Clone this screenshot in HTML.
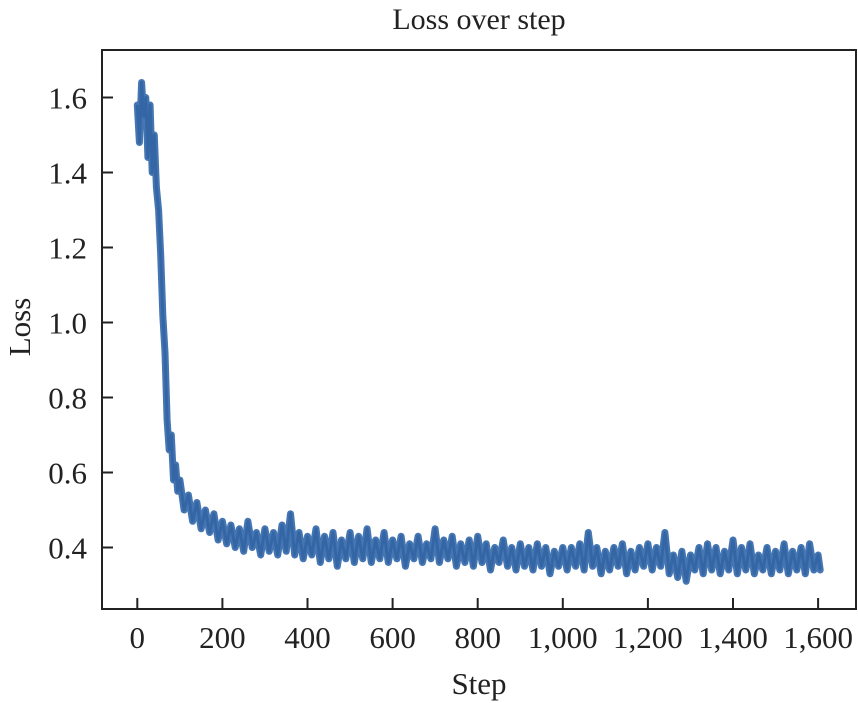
<!DOCTYPE html>
<html><head><meta charset="utf-8"><style>
html,body{margin:0;padding:0;background:#fff;}
svg{display:block;font-family:"Liberation Serif",serif;}
</style></head><body>
<svg id="chart" width="858" height="703">
<text x="479" y="29" font-size="30" text-anchor="middle" fill="#222">Loss over step</text>
<text x="479" y="694" font-size="31" text-anchor="middle" fill="#222">Step</text>
<text x="0" y="0" font-size="31" text-anchor="middle" fill="#222" transform="translate(30,327) rotate(-90)">Loss</text>
<g id="axes"></g>
<path id="band" fill="none" stroke="#3b6fae" stroke-width="7" stroke-linejoin="round" stroke-linecap="round" opacity="0.95"></path>
<path id="line" fill="none" stroke="#3466a6" stroke-width="3" stroke-linejoin="round"></path>
<rect x="102" y="50" width="754" height="559" fill="none" stroke="#222" stroke-width="2"></rect>
</svg>
<script>
const xTicks=[0,200,400,600,800,1000,1200,1400,1600];
const xTickLabels=["0","200","400","600","800","1,000","1,200","1,400","1,600"];
const yTicks=[0.4,0.6,0.8,1.0,1.2,1.4,1.6];
const yTickLabels=["0.4","0.6","0.8","1.0","1.2","1.4","1.6"];
const steps=[0,5,10,15,20,25,30,35,40,45,50,55,60,65,70,75,80,85,90,95,100,
110,120,130,140,150,160,170,180,190,200,210,220,230,240,250,260,270,280,290,300,
310,320,330,340,350,360,370,380,390,400,410,420,430,440,450,460,470,480,490,500,
510,520,530,540,550,560,570,580,590,600,610,620,630,640,650,660,670,680,690,700,
710,720,730,740,750,760,770,780,790,800,810,820,830,840,850,860,870,880,890,900,
910,920,930,940,950,960,970,980,990,1000,1010,1020,1030,1040,1050,1060,1070,1080,1090,1100,
1110,1120,1130,1140,1150,1160,1170,1180,1190,1200,1210,1220,1230,1240,1250,1260,1270,1280,1290,1300,
1310,1320,1330,1340,1350,1360,1370,1380,1390,1400,1410,1420,1430,1440,1450,1460,1470,1480,1490,1500,
1510,1520,1530,1540,1550,1560,1570,1580,1590,1600,1605];
const loss=[1.58,1.48,1.64,1.55,1.60,1.44,1.58,1.40,1.50,1.36,1.30,1.18,1.02,0.92,0.74,0.66,0.70,0.58,0.62,0.55,0.58,
0.50,0.54,0.47,0.52,0.45,0.50,0.44,0.49,0.42,0.47,0.41,0.46,0.40,0.45,0.39,0.47,0.40,0.44,0.38,0.45,
0.39,0.44,0.38,0.46,0.39,0.49,0.38,0.44,0.37,0.43,0.38,0.45,0.36,0.43,0.37,0.44,0.35,0.42,0.37,0.44,
0.36,0.43,0.37,0.45,0.36,0.42,0.37,0.44,0.36,0.42,0.37,0.43,0.35,0.41,0.37,0.43,0.36,0.41,0.37,0.45,
0.36,0.42,0.37,0.43,0.35,0.41,0.36,0.42,0.35,0.43,0.36,0.41,0.34,0.40,0.36,0.42,0.35,0.40,0.34,0.41,
0.35,0.40,0.34,0.41,0.35,0.40,0.33,0.39,0.35,0.40,0.34,0.40,0.35,0.41,0.34,0.44,0.35,0.40,0.33,0.39,
0.34,0.40,0.35,0.41,0.33,0.39,0.34,0.40,0.35,0.41,0.34,0.40,0.35,0.44,0.33,0.38,0.32,0.39,0.31,0.38,
0.34,0.40,0.33,0.41,0.34,0.40,0.33,0.39,0.34,0.42,0.33,0.40,0.34,0.41,0.33,0.38,0.34,0.40,0.33,0.39,
0.34,0.41,0.33,0.39,0.34,0.40,0.33,0.41,0.34,0.38,0.34];
const xS=v=>137.3+(v/200)*85.1;
const yS=v=>547.5-((v-0.4)/0.2)*75;
const NS="http://www.w3.org/2000/svg";
const axes=document.getElementById('axes');
xTicks.forEach((t,i)=>{
  const l=document.createElementNS(NS,'line');
  l.setAttribute('x1',xS(t));l.setAttribute('x2',xS(t));l.setAttribute('y1',609);l.setAttribute('y2',598);
  l.setAttribute('stroke','#222');l.setAttribute('stroke-width','2');
  
  
  axes.appendChild(l);
  const tx=document.createElementNS(NS,'text');
  tx.setAttribute('x',xS(t));tx.setAttribute('y',648);tx.setAttribute('font-size','31');
  tx.setAttribute('text-anchor','middle');tx.setAttribute('fill','#222');
  tx.textContent=xTickLabels[i];
  
  
  axes.appendChild(tx);
});
yTicks.forEach((t,i)=>{
  const l=document.createElementNS(NS,'line');
  l.setAttribute('x1',102);l.setAttribute('x2',113);l.setAttribute('y1',yS(t));l.setAttribute('y2',yS(t));
  l.setAttribute('stroke','#222');l.setAttribute('stroke-width','2');
  
  
  axes.appendChild(l);
  const tx=document.createElementNS(NS,'text');
  tx.setAttribute('x',87);tx.setAttribute('y',yS(t)+11);tx.setAttribute('font-size','31');
  tx.setAttribute('text-anchor','end');tx.setAttribute('fill','#222');
  tx.textContent=yTickLabels[i];
  
  
  axes.appendChild(tx);
});
const d=steps.map((s,i)=>(i?'L':'M')+xS(s).toFixed(1)+' '+yS(loss[i]).toFixed(1)).join('');
document.getElementById('band').setAttribute('d',d);
document.getElementById('line').setAttribute('d',d);
</script>
</body></html>
